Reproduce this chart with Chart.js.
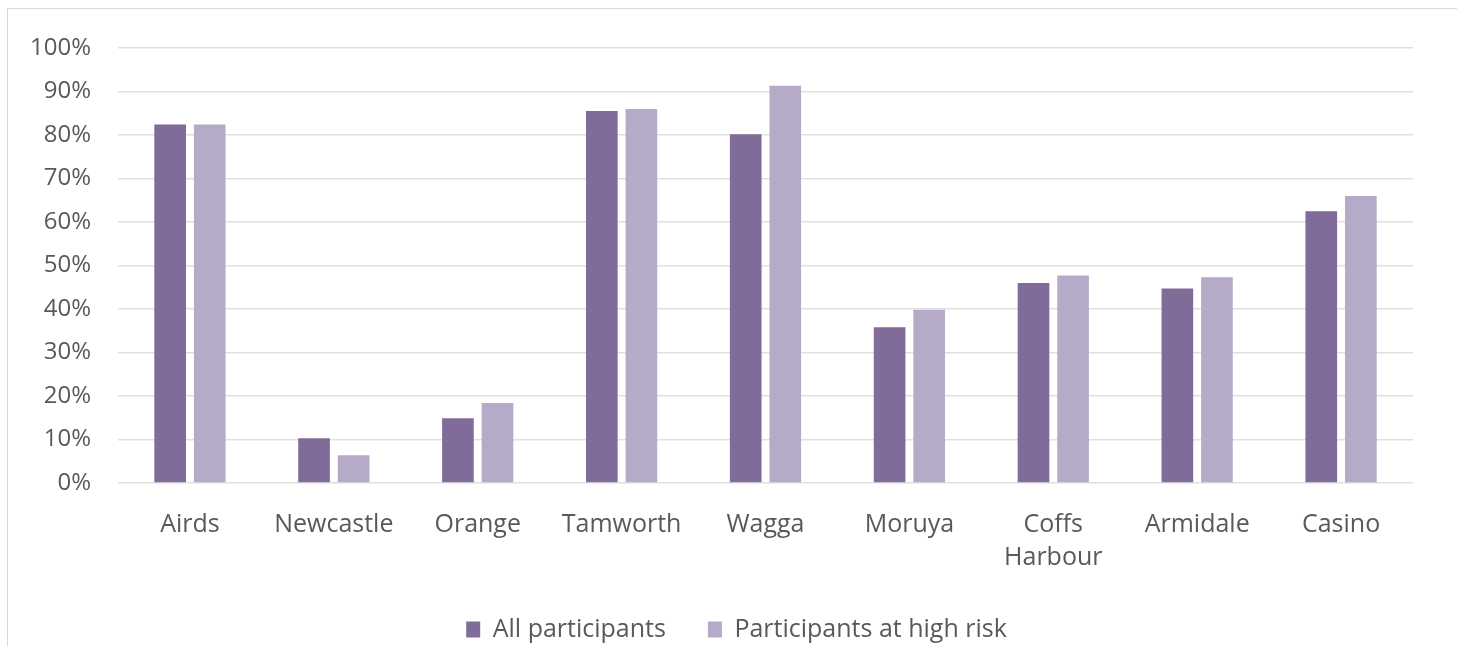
<!DOCTYPE html>
<html lang="en">
<head>
  <meta charset="UTF-8">
  <title>Participants by site</title>
  <script src="https://cdn.jsdelivr.net/npm/chart.js"></script>
  <style>
    html, body { margin: 0; padding: 0; background: #fff; }
    #wrap { position: relative; width: 1457px; height: 646px; }
    #frame { position: absolute; left: 7px; top: 8px; right: -2px; bottom: -2px;
             border-left: 1px solid #d9d9d9; border-top: 1px solid #d9d9d9; }
    canvas { position: absolute; left: 0; top: 0; }
  </style>
</head>
<body>
  <div id="wrap">
    <div id="frame"></div>
    <canvas id="chart" width="1457" height="646"></canvas>
  </div>

  <script>
    const sites = ['Airds', 'Newcastle', 'Orange', 'Tamworth', 'Wagga', 'Moruya', ['Coffs', 'Harbour'], 'Armidale', 'Casino'];
    const allParticipants = [82.4, 10.3, 14.9, 85.5, 80.2, 35.8, 46.0, 44.7, 62.5];
    const highRisk = [82.4, 6.4, 18.4, 86.0, 91.3, 39.8, 47.7, 47.3, 66.0];
    const yTicks = [0, 10, 20, 30, 40, 50, 60, 70, 80, 90, 100];

    const textColor = '#595959';
    const font = { family: '"Open Sans", sans-serif', size: 25 };

    // nudge the legend a little right, like the original sits
    const legendShift = {
      id: 'legendShift',
      afterLayout(chart) {
        chart.legend.left += 30;
        chart.legend.right += 30;
      }
    };

    new Chart(document.getElementById('chart'), {
      type: 'bar',
      data: {
        labels: sites,
        datasets: [
          { label: 'All participants', data: allParticipants, backgroundColor: '#806b99' },
          { label: 'Participants at high risk', data: highRisk, backgroundColor: '#b5aac7' }
        ]
      },
      options: {
        responsive: false,
        animation: false,
        layout: { padding: { top: 48, left: 0, right: 44, bottom: -6 } },
        datasets: { bar: { categoryPercentage: 0.55, barPercentage: 0.8 } },
        scales: {
          x: {
            grid: { display: false },
            border: { display: false },
            ticks: { color: textColor, font: { ...font, lineHeight: 1.32 }, padding: 17, maxRotation: 0, autoSkip: false },
            afterFit: s => { s.height = 92; }
          },
          y: {
            min: 0,
            max: 100,
            afterBuildTicks: s => { s.ticks = yTicks.map(v => ({ value: v })); },
            grid: { color: '#e0e0e0', lineWidth: 1.5, drawTicks: false },
            border: { display: false },
            ticks: { color: textColor, font: { ...font, size: 24 }, padding: 27, callback: v => v + '%' },
            afterFit: s => { s.width = 118; }
          }
        },
        plugins: {
          tooltip: { enabled: false },
          legend: {
            position: 'bottom',
            labels: { color: textColor, font: font, boxWidth: 14, boxHeight: 16, padding: 42 }
          }
        }
      },
      plugins: [legendShift]
    });
  </script>
</body>
</html>
